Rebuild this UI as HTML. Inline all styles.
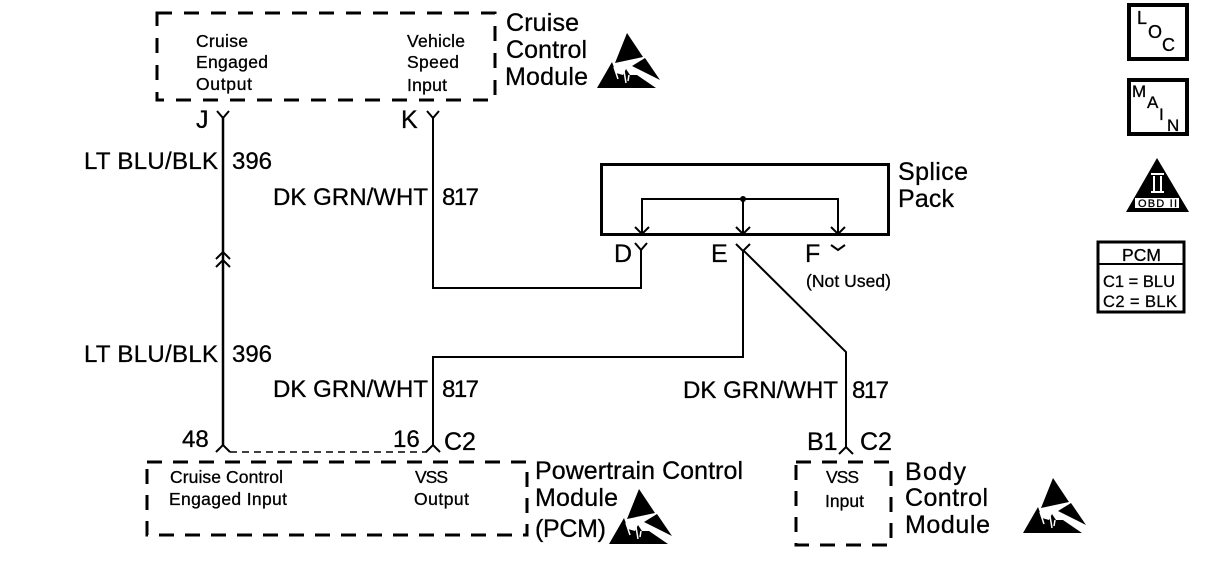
<!DOCTYPE html>
<html><head><meta charset="utf-8"><style>
html,body{margin:0;padding:0;background:#fff}
svg{display:block}
text{font-family:"Liberation Sans",sans-serif;fill:#000;stroke:#000;stroke-width:.3}
.b{font-size:25px}.s{font-size:17.5px}.m{font-size:24px}
</style></head><body>
<svg width="1216" height="574" viewBox="0 0 1216 574" xmlns="http://www.w3.org/2000/svg">
<defs>
<g id="esd">
<polygon points="30,0 46,24 18,30" fill="#000"/>
<polygon points="0,55 15,29 19,40 26,42 29,36 33,42 40,42 59,55" fill="#000"/>
<polygon points="35,33 48,25 63,47" fill="#000"/>
<path d="M17,34 L21,46 M27,38 L29,50 M32,42 L31,48" stroke="#fff" stroke-width="1.5" fill="none"/>
</g>
</defs>
<g fill="none" stroke="#000">
<!-- module boxes -->
<rect x="157" y="13" width="338" height="87" stroke-width="3" stroke-dasharray="15 12"/>
<rect x="147" y="462" width="380" height="73" stroke-width="3" stroke-dasharray="15 11"/>
<rect x="796" y="462" width="95" height="83" stroke-width="3" stroke-dasharray="15 11"/>
<!-- splice pack -->
<rect x="601.5" y="164.5" width="287" height="70" stroke-width="3"/>
<path d="M642,235V199H838V233" stroke-width="2"/>
<path d="M743,199V235" stroke-width="2"/>
<path d="M635,227L642,234L649,227M736,227L743,234L750,227M831,227L838,234L845,227" stroke-width="2"/>
<!-- wires -->
<path d="M223,118V445" stroke-width="2.5"/>
<path d="M216,259L223,252L230,259M216,267L223,260L230,267" stroke-width="2"/>
<path d="M433,118V288H641V250" stroke-width="2"/>
<path d="M743,250V357H433V445" stroke-width="2"/>
<path d="M743,250L846,352V447" stroke-width="2"/>
<path d="M230,452H427" stroke-width="1.5" stroke-dasharray="7 5"/>
<!-- connector forks -->
<path d="M217,111L223,118L229,111M427,111L433,118L439,111" stroke-width="2"/>
<path d="M635,243L641,250L647,243" stroke-width="2"/>
<path d="M736,244L743,251L750,244" stroke-width="2"/>
<path d="M831,245L838,250L845,245" stroke-width="2"/>
<path d="M216,452L223,445L230,452M426,452L433,445L440,452M839,454L846,447L853,454" stroke-width="2"/>
<!-- legend boxes -->
<rect x="1129" y="5" width="58" height="54" stroke-width="4"/>
<rect x="1129" y="80" width="58" height="54" stroke-width="4"/>
<rect x="1098" y="242" width="86" height="70" stroke-width="3"/>
<path d="M1098,264H1184" stroke-width="2"/>
</g>
<circle cx="743" cy="199" r="3" fill="#000"/>
<polygon points="1157,158 1189,212 1126,212" fill="#000"/>
<rect x="1135" y="198" width="44" height="10" fill="#fff"/>
<rect x="1151" y="175" width="13" height="17" fill="#000"/>
<path d="M1151,174H1164M1151,192H1164M1154,176V191M1161,176V191" stroke="#fff" stroke-width="2" fill="none"/>
<text x="1138" y="207" style="font-size:11px" textLength="39">OBD II</text>
<use href="#esd" x="597" y="33"/>
<use href="#esd" x="609" y="489"/>
<use href="#esd" x="1023" y="478"/>
<!-- module titles -->
<text class="b" x="506" y="31" textLength="73">Cruise</text>
<text class="b" x="506" y="58" textLength="81">Control</text>
<text class="b" x="505" y="85" textLength="83">Module</text>
<text class="b" x="898" y="180" textLength="70">Splice</text>
<text class="b" x="898" y="207" textLength="56">Pack</text>
<text class="b" x="535" y="479" textLength="208">Powertrain Control</text>
<text class="b" x="535" y="506" textLength="83">Module</text>
<text class="b" x="535" y="537" textLength="71">(PCM)</text>
<text class="b" x="905" y="480" textLength="61">Body</text>
<text class="b" x="905" y="506" textLength="83">Control</text>
<text class="b" x="905" y="533" textLength="85">Module</text>
<!-- inner labels -->
<text class="s" x="196" y="47" textLength="52">Cruise</text>
<text class="s" x="196" y="68" textLength="72">Engaged</text>
<text class="s" x="196" y="90" textLength="56">Output</text>
<text class="s" x="407" y="47" textLength="58">Vehicle</text>
<text class="s" x="407" y="68" textLength="52">Speed</text>
<text class="s" x="407" y="91" textLength="40">Input</text>
<text class="s" x="170" y="483" textLength="113">Cruise Control</text>
<text class="s" x="169" y="505" textLength="118">Engaged Input</text>
<text class="s" x="415" y="483" textLength="33">VSS</text>
<text class="s" x="414" y="505" textLength="55">Output</text>
<text class="s" x="826" y="483" textLength="33">VSS</text>
<text class="s" x="825" y="507" textLength="39">Input</text>
<text class="s" x="806" y="287" textLength="85">(Not Used)</text>
<!-- pins -->
<text class="b" x="196" y="128">J</text>
<text class="b" x="401" y="128">K</text>
<text class="b" x="614" y="262">D</text>
<text class="b" x="711" y="262">E</text>
<text class="b" x="805" y="262">F</text>
<text class="m" x="182" y="447">48</text>
<text class="m" x="393" y="447">16</text>
<text class="b" x="444" y="450">C2</text>
<text class="b" x="807" y="450">B1</text>
<text class="b" x="860" y="450">C2</text>
<!-- wire labels -->
<text class="m" x="84" y="169" textLength="134">LT BLU/BLK</text>
<text class="m" x="232" y="169" textLength="40">396</text>
<text class="m" x="273" y="205" textLength="155">DK GRN/WHT</text>
<text class="m" x="442" y="205" textLength="37">817</text>
<text class="m" x="84" y="362" textLength="134">LT BLU/BLK</text>
<text class="m" x="232" y="362" textLength="40">396</text>
<text class="m" x="273" y="397" textLength="155">DK GRN/WHT</text>
<text class="m" x="442" y="397" textLength="37">817</text>
<text class="m" x="683" y="398" textLength="155">DK GRN/WHT</text>
<text class="m" x="852" y="398" textLength="37">817</text>
<!-- legend text -->
<text x="1137" y="24" style="font-size:18px">L</text>
<text x="1148" y="38" style="font-size:18px">O</text>
<text x="1162" y="51" style="font-size:18px">C</text>
<text x="1132" y="97" style="font-size:17px">M</text>
<text x="1147" y="108" style="font-size:17px">A</text>
<text x="1159" y="120" style="font-size:17px">I</text>
<text x="1167" y="131" style="font-size:17px">N</text>
<text x="1122" y="261" style="font-size:17.5px" textLength="39">PCM</text>
<text x="1103" y="287" style="font-size:16.5px" textLength="72">C1 = BLU</text>
<text x="1103" y="307" style="font-size:16.5px" textLength="74">C2 = BLK</text>
</svg>
</body></html>
